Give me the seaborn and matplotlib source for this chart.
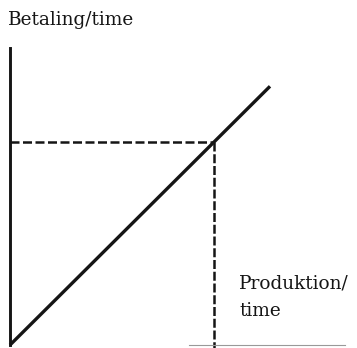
import numpy as np
import pandas as pd
import matplotlib
matplotlib.use("Agg")
import matplotlib.pyplot as plt
import seaborn as sns

# Data (conceptual units)
produktion = [0.0, 10.0]
betaling = [0.0, 9.95]
ref_x = 7.85
ref_y = 7.8
x_label_lines = ["Produktion/", "time"]
y_label = "Betaling/time"

sns.set_theme(style="white")
plt.rcParams['font.family'] = ['DejaVu Serif', 'Liberation Serif']

W, H = 357, 348
fig = plt.figure(figsize=(W / 100, H / 100), dpi=100)
ox, oy = 10, 345
unit = 26.0
xmax = (345 - ox) / unit
ymax = (oy - 48) / unit
ax = fig.add_axes([ox / W, (H - oy) / H, (W - ox) / W, (oy - 0) / H])
ax.set_xlim(0, (W - ox) / unit)
ax.set_ylim(0, oy / unit)

df = pd.DataFrame({"Produktion": produktion, "Betaling": betaling})
sns.lineplot(data=df, x="Produktion", y="Betaling", ax=ax, color="#151515",
             linewidth=2.4, solid_capstyle="butt", clip_on=False)

# dashed reference lines
ax.plot([0, ref_x], [ref_y, ref_y], color="#151515", lw=1.8,
        dashes=(3.6, 1.4), clip_on=False)
ax.plot([ref_x, ref_x], [ref_y, -0.2], color="#151515", lw=1.8,
        dashes=(3.6, 1.1), clip_on=False)

for s in ["top", "right"]:
    ax.spines[s].set_visible(False)
ax.spines["left"].set_bounds(0, ymax)
ax.spines["left"].set_linewidth(2.1)
ax.spines["left"].set_color("#151515")
ax.spines["bottom"].set_bounds(6.9, xmax)
ax.spines["bottom"].set_linewidth(0.8)
ax.spines["bottom"].set_color("#999999")
ax.set_xticks([])
ax.set_yticks([])
ax.set_xlabel("")
ax.set_ylabel("")
ax.patch.set_alpha(0)

fs = 13.3
fig.text(8 / W, 1 - 20 / H, y_label, fontsize=fs, va="center", ha="left",
         color="#151515")
fig.text(239 / W, 1 - 283 / H, x_label_lines[0], fontsize=fs, va="center",
         ha="left", color="#151515")
fig.text(239 / W, 1 - 311 / H, x_label_lines[1], fontsize=fs, va="center",
         ha="left", color="#151515")

fig.savefig("out.png", dpi=100)
